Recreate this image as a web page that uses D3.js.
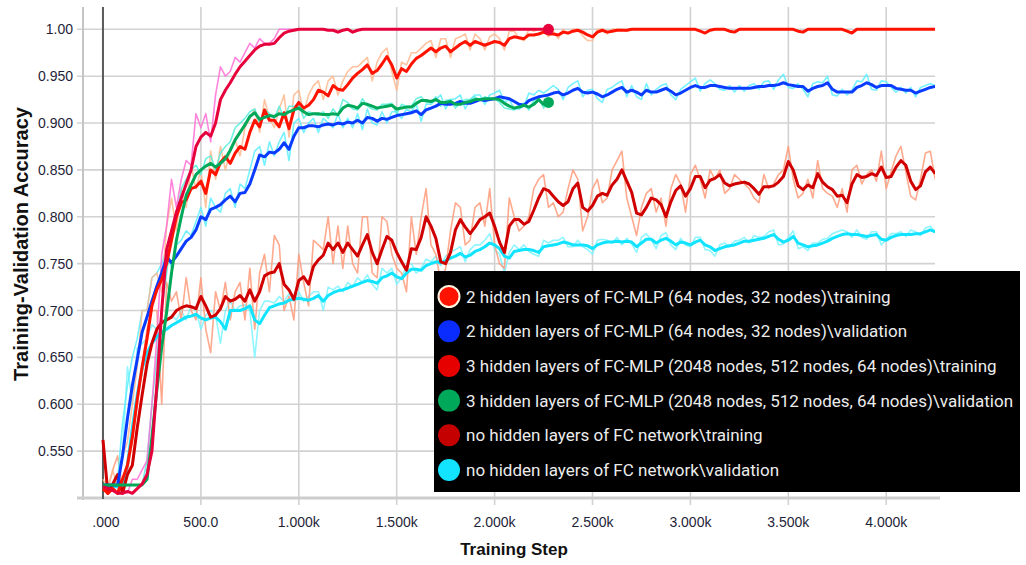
<!DOCTYPE html>
<html><head><meta charset="utf-8">
<script src="https://cdn.jsdelivr.net/npm/d3@7"></script>
<style>html,body{margin:0;padding:0;background:#fff;}svg{display:block;}</style>
</head><body><svg id="c" width="1026" height="565"></svg>
<script>
const STEP = 25; // training-step spacing of the logged points
const xTickValues = [0,500,1000,1500,2000,2500,3000,3500,4000];
const xTickLabels = [".000","500.0","1.000k","1.500k","2.000k","2.500k","3.000k","3.500k","4.000k"];
const yTickValues = [0.55,0.60,0.65,0.70,0.75,0.80,0.85,0.90,0.95,1.00];
const yTickLabels = ["0.550","0.600","0.650","0.700","0.750","0.800","0.850","0.900","0.950","1.00"];
const legendLabels = [
  "2 hidden layers of FC-MLP (64 nodes, 32 nodes)\\training",
  "2 hidden layers of FC-MLP (64 nodes, 32 nodes)\\validation",
  "3 hidden layers of FC-MLP (2048 nodes, 512 nodes, 64 nodes)\\training",
  "3 hidden layers of FC-MLP (2048 nodes, 512 nodes, 64 nodes)\\validation",
  "no hidden layers of FC network\\training",
  "no hidden layers of FC network\\validation"
];
const legendColors = ["#ff1200","#0a2cff","#e60000","#00a859","#c40000","#12e4ff"];

// ---- 2 hidden layers, training (smoothed / raw)
const twoTrain = [
0.51,0.505,0.51,0.505,0.52,0.535,0.565,0.605,0.64,0.67,
0.705,0.722,0.733,0.75,0.775,0.80,0.815,0.818,0.83,0.832,
0.838,0.825,0.85,0.845,0.858,0.864,0.857,0.868,0.875,0.872,
0.89,0.903,0.896,0.914,0.903,0.903,0.896,0.911,0.894,0.914,
0.922,0.916,0.919,0.925,0.935,0.933,0.929,0.94,0.936,0.935,
0.941,0.948,0.953,0.957,0.962,0.953,0.956,0.963,0.971,0.962,
0.948,0.958,0.955,0.963,0.969,0.972,0.976,0.98,0.976,0.98,
0.982,0.976,0.98,0.984,0.987,0.983,0.987,0.985,0.983,0.985,
0.987,0.986,0.983,0.99,0.992,0.991,0.99,0.994,0.994,0.995,
0.997,0.995,0.995,0.994,0.997,0.996,0.998,0.999,0.997,0.994,
0.992,0.997,0.999,0.997,0.998,0.999,0.999,0.999,1.0,1.0,
1.0,1.0,1.0,1.0,1.0,1.0,1.0,1.0,1.0,1.0,
1.0,1.0,0.998,0.996,0.999,1.0,1.0,1.0,0.998,0.997,
1.0,1.0,1.0,1.0,1.0,1.0,1.0,1.0,1.0,1.0,
1.0,1.0,0.998,0.997,1.0,1.0,1.0,1.0,1.0,1.0,
1.0,1.0,0.998,0.996,1.0,1.0,1.0,1.0,1.0,1.0,
1.0,1.0,1.0,1.0,1.0,1.0,1.0,1.0,1.0,1.0,
1.0];
const twoTrainRaw = [
0.52,0.51,0.53,0.51,0.545,0.56,0.6,0.64,0.7,0.7,
0.735,0.74,0.72,0.79,0.82,0.785,0.83,0.81,0.855,0.83,
0.85,0.81,0.87,0.84,0.875,0.85,0.87,0.882,0.865,0.895,
0.905,0.915,0.89,0.925,0.905,0.895,0.915,0.93,0.885,0.93,
0.935,0.91,0.93,0.94,0.945,0.925,0.945,0.95,0.93,0.945,
0.955,0.96,0.96,0.965,0.97,0.945,0.965,0.975,0.98,0.955,
0.935,0.965,0.962,0.975,0.975,0.98,0.985,0.988,0.97,0.99,
0.99,0.97,0.99,0.992,0.995,0.978,0.995,0.99,0.978,0.992,
0.995,0.99,0.978,0.998,0.998,0.99,0.988,1.0,0.998,1.0,
1.0,0.992,0.998,0.99,1.0,0.995,1.0,1.0,0.993,0.988,
0.988,1.0,1.0,0.995,1.0,1.0,1.0,0.998,1.0,1.0,
1.0,1.0,1.0];

// ---- 2 hidden layers, validation
const twoVal = [
0.514,0.514,0.514,0.514,0.545,0.585,0.62,0.648,0.677,0.693,
0.71,0.726,0.74,0.757,0.751,0.758,0.766,0.774,0.778,0.786,
0.80,0.797,0.808,0.81,0.813,0.818,0.822,0.816,0.825,0.826,
0.835,0.85,0.866,0.864,0.869,0.868,0.872,0.879,0.872,0.886,
0.895,0.895,0.897,0.897,0.896,0.898,0.899,0.898,0.90,0.899,
0.901,0.90,0.903,0.90,0.906,0.905,0.902,0.905,0.904,0.906,
0.908,0.909,0.91,0.911,0.913,0.909,0.914,0.916,0.918,0.921,
0.92,0.92,0.921,0.923,0.921,0.921,0.923,0.925,0.924,0.925,
0.926,0.928,0.927,0.926,0.923,0.92,0.919,0.924,0.926,0.928,
0.929,0.93,0.932,0.933,0.93,0.932,0.935,0.937,0.933,0.932,
0.933,0.931,0.928,0.93,0.933,0.936,0.938,0.933,0.935,0.933,
0.93,0.935,0.933,0.933,0.935,0.937,0.934,0.93,0.932,0.935,
0.938,0.94,0.938,0.938,0.94,0.94,0.939,0.938,0.937,0.937,
0.937,0.937,0.937,0.938,0.939,0.939,0.94,0.94,0.941,0.943,
0.941,0.94,0.939,0.939,0.934,0.937,0.939,0.94,0.943,0.936,
0.933,0.933,0.933,0.933,0.938,0.94,0.943,0.941,0.938,0.94,
0.94,0.94,0.937,0.936,0.935,0.935,0.932,0.934,0.936,0.938,
0.939];
const twoValRaw = [
0.514,0.514,0.514,0.52,0.58,0.62,0.65,0.67,0.7,0.7,
0.735,0.74,0.75,0.765,0.745,0.77,0.775,0.785,0.78,0.795,
0.81,0.79,0.82,0.81,0.805,0.825,0.83,0.81,0.835,0.83,
0.85,0.87,0.875,0.855,0.88,0.865,0.88,0.89,0.86,0.9,
0.905,0.89,0.9,0.905,0.89,0.905,0.9,0.895,0.91,0.895,
0.905,0.895,0.91,0.893,0.915,0.9,0.898,0.912,0.9,0.912,
0.912,0.905,0.915,0.912,0.92,0.902,0.92,0.92,0.925,0.93,
0.915,0.925,0.926,0.93,0.915,0.925,0.93,0.93,0.92,0.93,
0.932,0.935,0.922,0.925,0.915,0.915,0.918,0.932,0.93,0.935,
0.932,0.936,0.94,0.936,0.925,0.938,0.942,0.945,0.928,0.935,
0.936,0.926,0.922,0.936,0.938,0.942,0.945,0.928,0.94,0.928,
0.925,0.942,0.93,0.936,0.94,0.942,0.93,0.925,0.936,0.94,
0.944,0.948,0.934,0.942,0.946,0.942,0.936,0.935,0.94,0.933,
0.94,0.934,0.94,0.942,0.936,0.944,0.945,0.936,0.946,0.952,
0.938,0.937,0.942,0.936,0.928,0.942,0.944,0.943,0.95,0.93,
0.929,0.936,0.93,0.935,0.945,0.944,0.952,0.936,0.935,0.945,
0.944,0.938,0.933,0.938,0.932,0.938,0.928,0.938,0.94,0.942,
0.94];

// ---- 3 hidden layers, training
const threeTrain = [
0.512,0.51,0.508,0.505,0.505,0.507,0.505,0.51,0.515,0.525,
0.55,0.62,0.70,0.765,0.785,0.805,0.82,0.835,0.85,0.875,
0.885,0.89,0.886,0.90,0.925,0.935,0.943,0.952,0.96,0.966,
0.972,0.978,0.982,0.984,0.984,0.985,0.991,0.996,0.998,0.999,
1.0,1.0,1.0,1.0,1.0,1.0,0.999,0.999,0.997,0.999,
1.0,0.997,0.999,1.0,1.0,1.0,1.0,1.0,1.0,1.0,
1.0,1.0,1.0,1.0,1.0,1.0,1.0,1.0,1.0,1.0,
1.0,1.0,1.0,1.0,1.0,1.0,1.0,1.0,1.0,1.0,
1.0,1.0,1.0,1.0,1.0,1.0,1.0,1.0,1.0,1.0,
1.0,1.0];
const threeTrainRaw = [
0.51,0.505,0.51,0.505,0.51,0.505,0.52,0.52,0.53,0.54,
0.6,0.67,0.76,0.79,0.84,0.81,0.84,0.86,0.855,0.91,
0.895,0.91,0.88,0.93,0.96,0.95,0.955,0.97,0.965,0.975,
0.985,0.98,0.99,0.985,0.985,0.99,1.0,1.0,1.0,1.0,
1.0];

// ---- 3 hidden layers, validation
const threeVal = [
0.514,0.514,0.514,0.514,0.514,0.514,0.514,0.514,0.514,0.52,
0.565,0.615,0.661,0.698,0.74,0.775,0.80,0.823,0.834,0.845,
0.85,0.854,0.857,0.853,0.857,0.862,0.871,0.882,0.89,0.898,
0.907,0.911,0.904,0.906,0.908,0.907,0.91,0.909,0.912,0.914,
0.916,0.912,0.909,0.91,0.91,0.909,0.909,0.91,0.909,0.916,
0.919,0.918,0.916,0.921,0.92,0.918,0.916,0.917,0.918,0.919,
0.915,0.916,0.917,0.917,0.921,0.924,0.924,0.923,0.925,0.922,
0.922,0.923,0.92,0.92,0.922,0.923,0.925,0.925,0.926,0.926,
0.926,0.925,0.921,0.918,0.916,0.917,0.919,0.917,0.92,0.925,
0.92,0.922];
const threeValRaw = [
0.514,0.514,0.514,0.514,0.514,0.514,0.514,0.514,0.514,0.54,
0.6,0.65,0.7,0.74,0.78,0.8,0.83,0.84,0.85,0.855,
0.845,0.862,0.865,0.85,0.868,0.875,0.88,0.895,0.9,0.905,
0.912,0.915,0.9,0.915,0.91,0.905,0.918,0.905,0.918,0.918,
0.92,0.905,0.912,0.91,0.908,0.912,0.905,0.915,0.908,0.925,
0.922,0.915,0.914,0.926,0.918,0.915,0.914,0.92,0.92,0.921,
0.91,0.92,0.918,0.918,0.926,0.928,0.922,0.922,0.928,0.918,
0.924,0.925,0.916,0.922,0.925,0.925,0.928,0.924,0.928,0.926,
0.926,0.922,0.916,0.915,0.914,0.92,0.921,0.914,0.924,0.928,
0.916,0.922];

// ---- no hidden layers, training
const zeroTrain = [
0.562,0.505,0.515,0.525,0.505,0.525,0.535,0.575,0.61,0.643,
0.665,0.68,0.687,0.69,0.693,0.70,0.703,0.705,0.704,0.702,
0.715,0.705,0.693,0.695,0.702,0.715,0.71,0.712,0.716,0.71,
0.722,0.71,0.72,0.737,0.74,0.741,0.75,0.728,0.722,0.712,
0.732,0.736,0.728,0.747,0.754,0.759,0.772,0.765,0.772,0.762,
0.772,0.765,0.758,0.77,0.781,0.762,0.75,0.765,0.779,0.775,
0.762,0.752,0.743,0.766,0.765,0.778,0.80,0.79,0.777,0.752,
0.75,0.762,0.786,0.797,0.789,0.782,0.789,0.797,0.80,0.804,
0.79,0.773,0.762,0.79,0.797,0.797,0.792,0.795,0.807,0.82,
0.83,0.828,0.822,0.816,0.812,0.816,0.83,0.836,0.81,0.806,
0.812,0.822,0.825,0.823,0.834,0.84,0.85,0.838,0.826,0.804,
0.802,0.81,0.82,0.818,0.813,0.80,0.816,0.828,0.833,0.822,
0.83,0.843,0.843,0.831,0.839,0.841,0.845,0.836,0.833,0.835,
0.836,0.837,0.835,0.83,0.824,0.832,0.832,0.833,0.837,0.843,
0.859,0.85,0.833,0.829,0.834,0.831,0.846,0.837,0.832,0.829,
0.822,0.823,0.815,0.835,0.845,0.842,0.843,0.846,0.844,0.853,
0.842,0.843,0.853,0.86,0.855,0.838,0.829,0.833,0.848,0.853,
0.846];
const zeroTrainRaw = [
0.56,0.51,0.53,0.545,0.51,0.53,0.56,0.6,0.64,0.68,
0.7,0.7,0.6,0.73,0.71,0.72,0.69,0.735,0.7,0.69,
0.735,0.68,0.655,0.72,0.7,0.73,0.69,0.72,0.73,0.69,
0.745,0.68,0.74,0.76,0.72,0.78,0.77,0.7,0.715,0.69,
0.76,0.73,0.705,0.775,0.77,0.765,0.8,0.75,0.79,0.745,
0.79,0.75,0.74,0.8,0.8,0.74,0.735,0.8,0.795,0.76,
0.745,0.74,0.72,0.8,0.76,0.8,0.83,0.77,0.76,0.73,
0.745,0.785,0.815,0.81,0.77,0.775,0.81,0.815,0.79,0.83,
0.77,0.75,0.745,0.82,0.8,0.785,0.79,0.8,0.83,0.84,
0.845,0.81,0.815,0.8,0.805,0.83,0.85,0.84,0.785,0.8,
0.83,0.84,0.815,0.82,0.85,0.86,0.87,0.82,0.8,0.78,
0.81,0.825,0.83,0.805,0.82,0.79,0.83,0.845,0.835,0.805,
0.845,0.855,0.84,0.82,0.85,0.84,0.85,0.825,0.83,0.845,
0.84,0.835,0.83,0.82,0.815,0.845,0.83,0.835,0.845,0.85,
0.875,0.84,0.82,0.825,0.84,0.82,0.86,0.83,0.825,0.822,
0.81,0.83,0.805,0.85,0.855,0.835,0.845,0.85,0.838,0.87,
0.83,0.848,0.865,0.875,0.848,0.822,0.818,0.84,0.868,0.87,
0.84];

// ---- no hidden layers, validation
const zeroVal = [
0.512,0.512,0.512,0.512,0.515,0.535,0.575,0.61,0.638,0.655,
0.665,0.672,0.677,0.68,0.684,0.687,0.69,0.693,0.694,0.696,
0.692,0.69,0.692,0.693,0.688,0.68,0.70,0.70,0.70,0.702,
0.705,0.69,0.686,0.695,0.703,0.705,0.707,0.708,0.711,0.712,
0.713,0.712,0.711,0.713,0.716,0.71,0.716,0.719,0.721,0.722,
0.724,0.726,0.728,0.73,0.732,0.731,0.729,0.735,0.737,0.74,
0.736,0.734,0.74,0.744,0.744,0.743,0.748,0.75,0.752,0.751,
0.753,0.756,0.758,0.761,0.757,0.759,0.763,0.765,0.768,0.772,
0.77,0.766,0.758,0.756,0.763,0.764,0.765,0.765,0.764,0.762,
0.768,0.769,0.77,0.771,0.773,0.772,0.77,0.77,0.77,0.769,
0.766,0.77,0.772,0.773,0.773,0.774,0.773,0.774,0.773,0.768,
0.772,0.776,0.776,0.772,0.775,0.777,0.774,0.77,0.773,0.772,
0.77,0.773,0.775,0.77,0.768,0.764,0.766,0.768,0.769,0.77,
0.772,0.774,0.774,0.775,0.776,0.777,0.779,0.781,0.776,0.773,
0.775,0.779,0.772,0.77,0.768,0.769,0.77,0.772,0.774,0.777,
0.779,0.781,0.782,0.781,0.781,0.78,0.779,0.78,0.781,0.776,
0.775,0.778,0.78,0.781,0.781,0.781,0.782,0.782,0.784,0.786,
0.784];
const zeroValRaw = [
0.512,0.512,0.512,0.515,0.55,0.64,0.6,0.66,0.665,0.67,
0.685,0.68,0.69,0.69,0.695,0.69,0.7,0.69,0.705,0.7,
0.68,0.695,0.7,0.695,0.665,0.7,0.71,0.7,0.705,0.706,
0.7,0.65,0.7,0.71,0.71,0.708,0.715,0.71,0.718,0.71,
0.72,0.71,0.715,0.72,0.72,0.7,0.725,0.722,0.726,0.72,
0.73,0.725,0.735,0.73,0.738,0.728,0.722,0.745,0.74,0.745,
0.728,0.735,0.748,0.75,0.74,0.745,0.755,0.752,0.758,0.748,
0.758,0.762,0.765,0.768,0.752,0.765,0.77,0.77,0.775,0.782,
0.765,0.76,0.74,0.762,0.77,0.765,0.77,0.763,0.76,0.758,
0.775,0.772,0.775,0.775,0.778,0.768,0.768,0.775,0.768,0.765,
0.76,0.775,0.776,0.775,0.772,0.778,0.77,0.777,0.771,0.762,
0.778,0.782,0.775,0.766,0.78,0.783,0.77,0.765,0.777,0.77,
0.768,0.778,0.778,0.765,0.764,0.758,0.77,0.772,0.768,0.774,
0.775,0.778,0.772,0.78,0.778,0.779,0.784,0.786,0.77,0.771,
0.778,0.785,0.766,0.768,0.764,0.772,0.772,0.776,0.777,0.782,
0.784,0.786,0.784,0.778,0.786,0.778,0.776,0.784,0.784,0.77,
0.776,0.782,0.782,0.784,0.779,0.786,0.784,0.78,0.788,0.79,
0.783];

const svg = d3.select("#c");
const x = d3.scaleLinear().domain([-102, 4249]).range([83, 935]);
const y = d3.scaleLinear().domain([0.5, 1.0238]).range([498, 7]);
const AXF = "'Liberation Sans', Arial, sans-serif";

// grid
const g = svg.append("g");
g.selectAll("line.h").data(yTickValues).enter().append("line")
  .attr("x1", 77).attr("x2", 935).attr("y1", d => y(d)).attr("y2", d => y(d))
  .attr("stroke", "#d2d2d2").attr("stroke-width", 1.6);
g.selectAll("line.v").data(xTickValues.slice(1)).enter().append("line")
  .attr("x1", d => x(d)).attr("x2", d => x(d)).attr("y1", 7).attr("y2", 505)
  .attr("stroke", "#d2d2d2").attr("stroke-width", 1.6);
g.append("line").attr("x1", 83).attr("x2", 83).attr("y1", 7).attr("y2", 500)
  .attr("stroke", "#c4c4c4").attr("stroke-width", 2);
g.append("line").attr("x1", 77).attr("x2", 940).attr("y1", y(0.5)).attr("y2", y(0.5))
  .attr("stroke", "#cdcdcd").attr("stroke-width", 3);
g.append("line").attr("x1", x(0)).attr("x2", x(0)).attr("y1", 7).attr("y2", 499)
  .attr("stroke", "#5a5a5a").attr("stroke-width", 2);

// tick labels
svg.selectAll("text.yt").data(yTickValues).enter().append("text")
  .attr("x", 73).attr("y", d => y(d)).attr("dy", "0.36em")
  .attr("text-anchor", "end").attr("font-family", AXF).attr("font-size", 14)
  .attr("fill", "#1f1f3a").text((d, i) => yTickLabels[i]);
svg.selectAll("text.xt").data(xTickValues).enter().append("text")
  .attr("x", (d, i) => x(d) + (i === 0 ? 3 : 0)).attr("y", 527)
  .attr("text-anchor", "middle").attr("font-family", AXF).attr("font-size", 14)
  .attr("fill", "#1f1f3a").text((d, i) => xTickLabels[i]);

// titles
svg.append("text").attr("transform", "translate(28,244) rotate(-90)")
  .attr("text-anchor", "middle").attr("font-family", AXF).attr("font-size", 20)
  .attr("font-weight", "bold").attr("fill", "#111").text("Training-Validation Accuracy");
svg.append("text").attr("x", 514).attr("y", 555)
  .attr("text-anchor", "middle").attr("font-family", AXF).attr("font-size", 17)
  .attr("font-weight", "bold").attr("fill", "#111").text("Training Step");

// lines
svg.append("clipPath").attr("id", "clip").append("rect")
  .attr("x", 83).attr("y", 4).attr("width", 852).attr("height", 494);
const plot = svg.append("g").attr("clip-path", "url(#clip)");
const line = d3.line().x((d, i) => x(i * STEP)).y(d => y(d));

const rawSeries = [
  [zeroValRaw, "#7df3ff"], [zeroTrainRaw, "#ff9b7a"],
  [twoValRaw, "#5eeeff"], [twoTrainRaw, "#ffb98f"],
  [threeValRaw, "#55eedc"], [threeTrainRaw, "#ff70d6"]
];
rawSeries.forEach(([d, c]) => plot.append("path").datum(d).attr("d", line)
  .attr("fill", "none").attr("stroke", c).attr("stroke-width", 1.6)
  .attr("stroke-opacity", 0.85).attr("stroke-linejoin", "round"));

const smoothSeries = [
  [zeroVal, "#12e4ff"], [zeroTrain, "#d00000"],
  [twoVal, "#0a3cff"], [twoTrain, "#ff1200"],
  [threeVal, "#00a859"], [threeTrain, "#e6003c"]
];
smoothSeries.forEach(([d, c]) => plot.append("path").datum(d).attr("d", line)
  .attr("fill", "none").attr("stroke", c).attr("stroke-width", 3)
  .attr("stroke-linejoin", "round"));

// end markers for the 3-hidden-layer runs
[[threeVal, "#00a859"], [threeTrain, "#e6003c"]].forEach(([d, c]) => {
  const i = d.length - 1;
  plot.append("circle").attr("cx", x(i * STEP)).attr("cy", y(d[i])).attr("r", 5.5).attr("fill", c);
});

// legend
const lg = svg.append("g");
lg.append("rect").attr("x", 434).attr("y", 271).attr("width", 586).attr("height", 221).attr("fill", "#000");
legendLabels.forEach((t, i) => {
  const cy = 296.5 + i * 34.7;
  lg.append("circle").attr("cx", 449).attr("cy", cy).attr("r", i === 0 ? 10.5 : 11)
    .attr("fill", legendColors[i])
    .attr("stroke", i === 0 ? "#fff3e0" : "none").attr("stroke-width", 2);
  lg.append("text").attr("x", 466).attr("y", cy + 6)
    .attr("font-family", "Roboto, 'Noto Sans', sans-serif").attr("font-size", 17)
    .attr("fill", "#ececec").text(t);
});
</script></body></html>
